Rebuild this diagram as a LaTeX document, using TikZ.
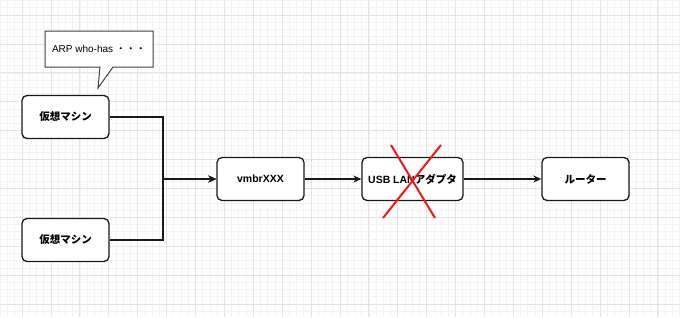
\documentclass[tikz,border=0pt]{standalone}
\usepackage{fontspec}
\setmainfont{Liberation Sans}
\newfontfamily\cjk{Noto Sans CJK JP}
\usetikzlibrary{arrows.meta}
\definecolor{gridmajor}{HTML}{E4E4E4}
\definecolor{gridminor}{HTML}{F3F3F3}
\definecolor{xred}{HTML}{F21818}
\tikzset{
  boxnode/.style={draw=black!90, line width=1.3pt, rounded corners=5pt, fill=white,
    minimum width=87pt, minimum height=43pt, inner sep=0pt,
    font=\fontsize{10.5}{12}\selectfont\bfseries},
  conn/.style={line width=1.3pt, draw=black!90},
  arr/.style={conn, -{Stealth[length=8pt,width=7pt,inset=2.5pt]}},
  crossline/.style={line width=2pt, draw=xred},
  callout/.style={draw=black!75, line width=1pt, fill=white}
}
\begin{document}
\begin{tikzpicture}[x=1pt,y=-1pt]
\useasboundingbox (0,0) rectangle (680,317);
\fill[white] (0,0) rectangle (680,317);
% grid
\foreach \i in {-3,...,91} {
  \draw[gridminor, line width=0.6pt] ({22+7.225*\i},0) -- ({22+7.225*\i},317);
}
\foreach \i in {-2,...,41} {
  \draw[gridminor, line width=0.6pt] (0,{15+7.225*\i}) -- (680,{15+7.225*\i});
}
\foreach \i in {0,...,22} {
  \draw[gridmajor, line width=0.8pt] ({22+28.9*\i},0) -- ({22+28.9*\i},317);
}
\foreach \i in {0,...,10} {
  \draw[gridmajor, line width=0.8pt] (0,{15+28.9*\i}) -- (680,{15+28.9*\i});
}
% nodes
\node[boxnode] (vm1) at (65.5,117) {\cjk 仮想マシン};
\node[boxnode] (vm2) at (65.5,240) {\cjk 仮想マシン};
\node[boxnode] (vmbr) at (260.5,179) {vmbrXXX};
\node[boxnode, minimum width=101pt] (usb) at (412.5,179) {USB LAN{\cjk アダプタ}};
\node[boxnode] (router) at (585.5,179) {\cjk ルーター};
\coordinate (j) at (163,179);
% connectors
\draw[arr] (vm1.east) -| (j) -- (vmbr.west);
\draw[arr] (vm2.east) -| (j) -- (vmbr.west);
\draw[arr] (vmbr.east) -- (usb.west);
\draw[arr] (usb.east) -- (router.west);
% callout
\draw[callout] (45,31) -- (153,31) -- (153,67) -- (113,67) -- (98,88) -- (100,67) -- (45,67) -- cycle;
\node[font=\fontsize{10}{12}\selectfont, inner sep=0pt] (arp) at (99,49) {ARP who-has {\cjk ・・・}};
% red cross
\coordinate (xa) at (391,145);
\coordinate (xb) at (435,218);
\coordinate (xc) at (441,145);
\coordinate (xd) at (383,218);
\draw[crossline] (xa) -- (xb);
\draw[crossline] (xc) -- (xd);
\end{tikzpicture}
\end{document}
